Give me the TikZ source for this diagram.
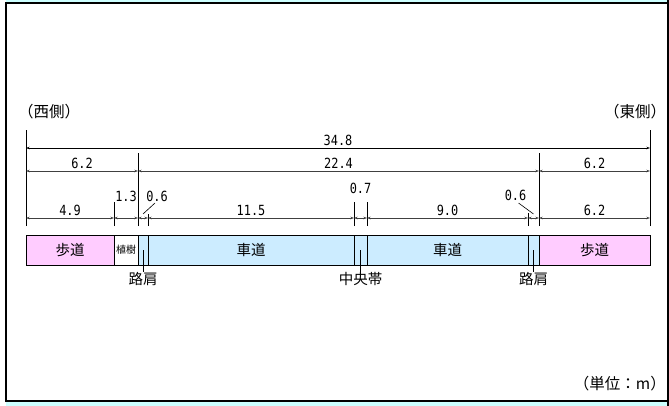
\documentclass[tikz,border=0pt]{standalone}
\usepackage{fontspec}
\setmainfont{Noto Sans CJK JP}
\newfontfamily\numfont[FakeStretch=0.85]{DejaVu Sans Mono}
\usetikzlibrary{positioning,arrows.meta}
\definecolor{hodo}{HTML}{FFCCFF}
\definecolor{shado}{HTML}{CCECFF}
\definecolor{waku}{HTML}{CCFFFF}

\begin{document}
\begin{tikzpicture}[x=1pt,y=-1pt,
	seg/.style={draw, line width=0.8pt, minimum height=30pt, inner sep=0pt, outer sep=0pt, anchor=north west, font=\fontsize{14.5}{14.5}\selectfont},
	dimline/.style={{Stealth[length=3.5pt,width=2.5pt]}-{Stealth[length=3.5pt,width=2.5pt]}, line width=0.6pt},
	extline/.style={line width=0.7pt},
	num/.style={font=\numfont\fontsize{14}{14}\selectfont, inner sep=0pt},
	lbl/.style={font=\fontsize{14.5}{14.5}\selectfont, inner sep=0pt}]

	\useasboundingbox (0,0) rectangle (669,406);
	% frame
	\fill[waku] (6,0) rectangle (667,2.5);
	\fill[waku] (6,402) rectangle (667,406);
	\draw[line width=2pt] (6,3) rectangle (667.5,401);
	\draw[line width=2pt] (667.5,0) -- (667.5,406);

	% road cross section
	\node[seg, fill=hodo, minimum width=88pt] (sw1) at (26,235) {歩道};
	\node[seg, right=0pt of sw1, fill=white, minimum width=24pt, font=\fontsize{10}{10}\selectfont] (tr) {植樹};
	\node[seg, right=0pt of tr, fill=shado, minimum width=10pt] (sh1) {};
	\node[seg, right=0pt of sh1, fill=shado, minimum width=206pt] (cw1) {車道};
	\node[seg, right=0pt of cw1, fill=shado, minimum width=13pt] (md) {};
	\node[seg, right=0pt of md, fill=shado, minimum width=161pt] (cw2) {車道};
	\node[seg, right=0pt of cw2, fill=shado, minimum width=11pt] (sh2) {};
	\node[seg, right=0pt of sh2, fill=hodo, minimum width=111pt] (sw2) {歩道};

	% extension lines
	\draw[extline] ([yshift=9pt]sw1.north west) -- ([yshift=105pt]sw1.north west);
	\draw[extline] ([yshift=9pt]sw2.north east) -- ([yshift=105pt]sw2.north east);
	\draw[extline] ([yshift=9pt]tr.north east) -- ([yshift=82pt]tr.north east);
	\draw[extline] ([yshift=9pt]sw2.north west) -- ([yshift=82pt]sw2.north west);
	\draw[extline] ([yshift=9pt]sw1.north east) -- ([yshift=33pt]sw1.north east);
	\draw[extline] ([yshift=9pt]sh1.north east) -- ([yshift=21pt]sh1.north east);
	\draw[extline] ([yshift=9pt]cw1.north east) -- ([yshift=33pt]cw1.north east);
	\draw[extline] ([yshift=9pt]md.north east) -- ([yshift=33pt]md.north east);
	\draw[extline] ([yshift=9pt]cw2.north east) -- ([yshift=22pt]cw2.north east);

	% dimensions
	\draw[dimline] ([yshift=87pt]sw1.north west) -- ([yshift=87pt]sw2.north east) node[num, midway, above=2.5pt] (d348) {34.8};

	\draw[dimline, black!75] ([yshift=64pt]sw1.north west) -- ([yshift=64pt]tr.north east) node[num, black, midway, above=2.5pt] (d62a) {6.2};
	\draw[dimline, black!75] ([yshift=64pt]tr.north east) -- ([yshift=64pt]sw2.north west) node[num, black, midway, above=2.5pt] (d224) {22.4};
	\draw[dimline, black!75] ([yshift=64pt]sw2.north west) -- ([yshift=64pt]sw2.north east) node[num, black, midway, above=2.5pt] (d62b) {6.2};

	\draw[dimline, black!75] ([yshift=17pt]sw1.north west) -- ([yshift=17pt]sw1.north east) node[num, black, midway, above=2.5pt] (d49) {4.9};
	\draw[dimline, black!75] ([yshift=17pt]tr.north west) -- ([yshift=17pt]tr.north east) node[num, black, midway, above=16pt] (d13) {1.3};
	\draw[dimline, black!75] ([yshift=17pt]sh1.north west) -- ([yshift=17pt]sh1.north east) coordinate[midway] (c06a);
	\draw[dimline, black!75] ([yshift=17pt]cw1.north west) -- ([yshift=17pt]cw1.north east) node[num, black, midway, above=2.5pt] (d115) {11.5};
	\draw[dimline, black!75] ([yshift=17pt]md.north west) -- ([yshift=17pt]md.north east) node[num, black, midway, above=24pt] (d07) {0.7};
	\draw[dimline, black!75] ([yshift=17pt]cw2.north west) -- ([yshift=17pt]cw2.north east) node[num, black, midway, above=2.5pt] (d90) {9.0};
	\draw[dimline, black!75] ([yshift=17pt]sh2.north west) -- ([yshift=17pt]sh2.north east) coordinate[midway] (c06b);
	\draw[dimline, black!75] ([yshift=17pt]sw2.north west) -- ([yshift=17pt]sw2.north east) node[num, black, midway, above=2.5pt] (d62c) {6.2};

	\node[num, above=16pt of c06a, xshift=14pt] (d06a) {0.6};
	\node[num, above=17pt of c06b, xshift=-18pt] (d06b) {0.6};
	\draw[line width=0.6pt] ([yshift=4pt]c06a) -- ([xshift=-2pt,yshift=-1pt]d06a.south);
	\draw[line width=0.6pt] ([yshift=4pt]c06b) -- ([xshift=3pt,yshift=-2pt]d06b.south);

	% names below the road
	\node[lbl, below=7pt of sh1] (rk1) {路肩};
	\node[lbl, below=7pt of md] (cb) {中央帯};
	\node[lbl, below=7pt of sh2] (rk2) {路肩};
	\draw[line width=0.7pt] (sh1.center) -- (rk1);
	\draw[line width=0.7pt] (md.center) -- (cb);
	\draw[line width=0.7pt] (sh2.center) -- (rk2);

	\node[lbl, font=\fontsize{15.5}{15.5}\selectfont] (west) at (49,112) {（西側）};
	\node[lbl, font=\fontsize{15.5}{15.5}\selectfont] (east) at (635,112) {（東側）};
	\node[lbl, font=\fontsize{15.5}{15.5}\selectfont, anchor=east] (unit) at (666,384) {（単位：m）};
\end{tikzpicture}
\end{document}
